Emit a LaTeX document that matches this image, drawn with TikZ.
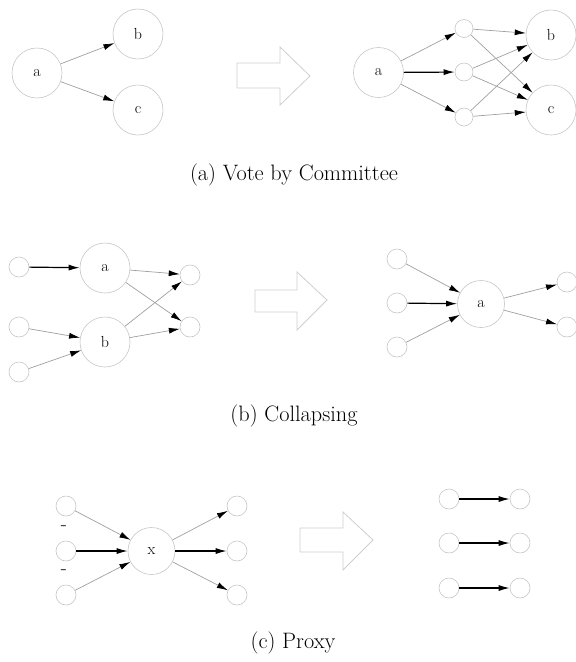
\documentclass[tikz,border=0pt]{standalone}
\usetikzlibrary{arrows.meta}
\begin{document}
\begin{tikzpicture}[x=1pt,y=-1pt,
  big/.style={circle,draw=gray!45,line width=0.6pt,minimum size=50pt,inner sep=0pt,font=\fontsize{16}{16}\selectfont},
  mid/.style={circle,draw=gray!45,line width=0.6pt,minimum size=47pt,inner sep=0pt,font=\fontsize{16}{16}\selectfont},
  small/.style={circle,draw=gray!45,line width=0.6pt,minimum size=20pt,inner sep=0pt},
  tiny/.style={circle,draw=gray!45,line width=0.6pt,minimum size=18pt,inner sep=0pt},
  thin/.style={draw=gray!75,line width=0.7pt,-{Latex[length=11pt,width=6pt,color=black]}},
  bold/.style={draw=black,line width=1.2pt,-{Latex[length=11pt,width=6pt,color=black]}},
  blockarrow/.style={draw=gray!38,line width=0.8pt,fill=white},
  caption/.style={font=\fontsize{22.3}{26}\selectfont},
  dashmark/.style={font=\fontsize{20}{24}\selectfont,inner sep=0pt}]
\useasboundingbox (0,0) rectangle (576,662);

% ---------- (a) ----------
\node[big] (a1) at (37,73) {a};
\node[big] (b1) at (138,34) {b};
\node[big] (c1) at (138,110) {c};
\draw[thin] (a1) -- (b1);
\draw[thin] (a1) -- (c1);

\draw[blockarrow] (237,63) -- (280,63) -- (280,47) -- (310,76) -- (280,105) -- (280,88) -- (237,88) -- cycle;

\node[big] (a2) at (378.5,72.5) {a};
\node[tiny] (s1) at (464,28.5) {};
\node[tiny] (s2) at (464,72) {};
\node[tiny] (s3) at (464,117) {};
\node[big] (b2) at (551,35) {b};
\node[big] (c2) at (551,110) {c};
\draw[thin] (a2) -- (s1);
\draw[bold] (a2) -- (s2);
\draw[thin] (a2) -- (s3);
\draw[thin] (s1) -- (b2);
\draw[thin] (s1) -- (c2);
\draw[thin] (s2) -- (b2);
\draw[thin] (s2) -- (c2);
\draw[thin] (s3) -- (b2);
\draw[thin] (s3) -- (c2);

\node[caption] (capa) at (294,175) {(a) Vote by Committee};

% ---------- (b) ----------
\node[small] (i1) at (19,267) {};
\node[small] (i2) at (19,327) {};
\node[small] (i3) at (19,372) {};
\node[big] (ab) at (105,268) {a};
\node[big] (bb) at (105,342) {b};
\node[small] (o1) at (190,275) {};
\node[small] (o2) at (190,327) {};
\draw[bold] (i1) -- (ab);
\draw[thin] (i2) -- (bb);
\draw[thin] (i3) -- (bb);
\draw[thin] (ab) -- (o1);
\draw[thin] (ab) -- (o2);
\draw[thin] (bb) -- (o1);
\draw[thin] (bb) -- (o2);

\draw[blockarrow] (255,290) -- (297,290) -- (297,272) -- (327,300) -- (297,330) -- (297,312) -- (255,312) -- cycle;

\node[small] (j1) at (397,259) {};
\node[small] (j2) at (397,303) {};
\node[small] (j3) at (397,347) {};
\node[mid] (ac) at (481,304) {a};
\node[small] (p1) at (567,282) {};
\node[small] (p2) at (567,327) {};
\draw[thin] (j1) -- (ac);
\draw[bold] (j2) -- (ac);
\draw[thin] (j3) -- (ac);
\draw[thin] (ac) -- (p1);
\draw[thin] (ac) -- (p2);

\node[caption] (capb) at (294,416) {(b) Collapsing};

% ---------- (c) ----------
\node[small] (l1) at (66,506) {};
\node[small] (l2) at (66,551) {};
\node[small] (l3) at (66,595) {};
\node[dashmark] (d1) at (64,528) {-};
\node[dashmark] (d2) at (64,572) {-};
\node[mid] (x) at (151.5,551) {x};
\node[small] (r1) at (237,506) {};
\node[small] (r2) at (237,551) {};
\node[small] (r3) at (237,595) {};
\draw[thin] (l1) -- (x);
\draw[bold] (l2) -- (x);
\draw[thin] (l3) -- (x);
\draw[thin] (x) -- (r1);
\draw[bold] (x) -- (r2);
\draw[thin] (x) -- (r3);

\draw[blockarrow] (300,528) -- (343,528) -- (343,512) -- (373,540) -- (343,570) -- (343,552) -- (300,552) -- cycle;

\node[small] (m1) at (449,499) {};
\node[small] (m2) at (449,543) {};
\node[small] (m3) at (449,588) {};
\node[small] (n1) at (520,499) {};
\node[small] (n2) at (520,543) {};
\node[small] (n3) at (520,588) {};
\draw[bold] (m1) -- (n1);
\draw[bold] (m2) -- (n2);
\draw[bold] (m3) -- (n3);

\node[caption] (capc) at (293,643) {(c) Proxy};
\end{tikzpicture}
\end{document}
